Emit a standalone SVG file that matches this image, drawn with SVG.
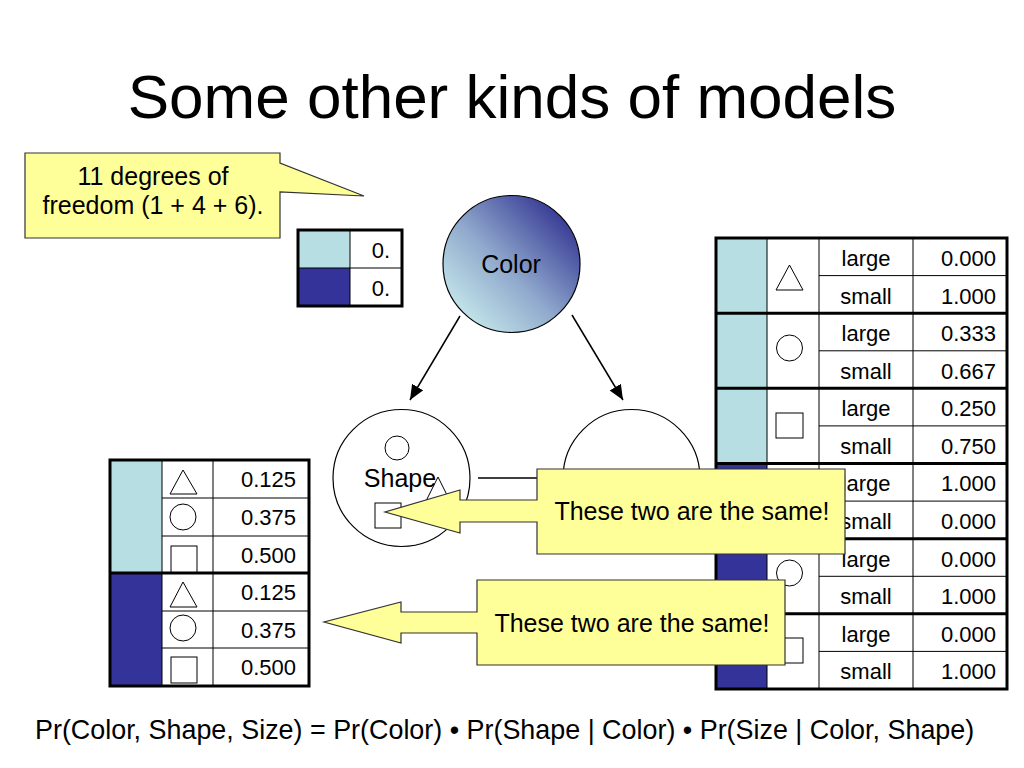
<svg xmlns="http://www.w3.org/2000/svg" width="1024" height="768" viewBox="0 0 1024 768">
<defs>
<style>
text{font-family:"Liberation Sans",Arial,sans-serif;fill:#000}
.title{font-size:62px;text-anchor:middle}
.lbl{font-size:25px;text-anchor:middle}
.cell{font-size:22px}
.r{text-anchor:end}
.c{text-anchor:middle}
.lb{fill:#b7dee2}
.db{fill:#333399}
.wh{fill:#fff}
.thin{stroke:#000;stroke-width:1;fill:none}
.thick{stroke:#000;stroke-width:3;fill:none}
.icon{stroke:#000;stroke-width:1;fill:#fff}
.callout{fill:#ffff99;stroke:#333;stroke-width:1.2}
.node{fill:#fff;stroke:#000;stroke-width:1.2}
.conn{stroke:#000;stroke-width:1.5;fill:none}
</style>
<linearGradient id="colorGrad" x1="0.15" y1="0.85" x2="0.85" y2="0.15">
<stop offset="0" stop-color="#c0e2e8"/>
<stop offset="0.45" stop-color="#8fa8cc"/>
<stop offset="1" stop-color="#3b3f98"/>
</linearGradient>
<marker id="arr" markerWidth="16" markerHeight="14" refX="15" refY="6.5" orient="auto" markerUnits="userSpaceOnUse">
<path d="M0,0 L15,6.5 L0,13 z" fill="#000"/>
</marker>
</defs>
<rect width="1024" height="768" fill="#fff"/>

<text class="title" x="512" y="118">Some other kinds of models</text>

<g id="table-color">
<rect class="lb" x="298" y="230" width="52" height="38"/>
<rect class="db" x="298" y="268" width="52" height="38"/>
<rect class="wh" x="350" y="230" width="52" height="76"/>
<line class="thin" x1="298" y1="268" x2="402" y2="268"/>
<line class="thin" x1="350" y1="230" x2="350" y2="306"/>
<rect class="thick" x="298" y="230" width="104" height="76"/>
<text class="cell r" x="390" y="258">0.</text>
<text class="cell r" x="390" y="296">0.</text>
</g>

<g id="node-color">
<circle cx="511.5" cy="264" r="68.5" fill="url(#colorGrad)" stroke="#000" stroke-width="1.2"/>
<text class="lbl" x="511" y="273">Color</text>
</g>

<g id="connectors">
<line class="conn" x1="460" y1="316" x2="410" y2="400" marker-end="url(#arr)"/>
<line class="conn" x1="572" y1="315" x2="623" y2="400" marker-end="url(#arr)"/>
<line class="conn" x1="478" y1="478" x2="562" y2="478" marker-end="url(#arr)"/>
</g>

<g id="node-shape">
<circle class="node" cx="401.5" cy="478" r="68.5"/>
<circle class="icon" cx="397" cy="448" r="12"/>
<polygon class="icon" points="438,477 451,503 425,503"/>
<rect class="icon" x="375" y="503" width="26" height="25"/>
<text class="lbl" x="400" y="487">Shape</text>
</g>

<g id="node-size">
<circle class="node" cx="631.5" cy="478" r="68.5"/>
</g>

<g id="table-shape">
<rect class="lb" x="110" y="460" width="52" height="113"/>
<rect class="db" x="110" y="573" width="52" height="113"/>
<rect class="wh" x="162" y="460" width="147" height="226"/>
<g class="thin">
<line x1="162" y1="498" x2="309" y2="498"/>
<line x1="162" y1="536" x2="309" y2="536"/>
<line x1="162" y1="611" x2="309" y2="611"/>
<line x1="162" y1="648" x2="309" y2="648"/>
<line x1="162" y1="460" x2="162" y2="686"/>
<line x1="213" y1="460" x2="213" y2="686"/>
</g>
<line class="thick" x1="110" y1="573" x2="309" y2="573"/>
<rect class="thick" x="110" y="460" width="199" height="226"/>
<polygon class="icon" points="183,470 197,494 170,494"/>
<circle class="icon" cx="183" cy="517" r="13"/>
<rect class="icon" x="171" y="546" width="26" height="26"/>
<polygon class="icon" points="183,582 197,607 170,607"/>
<circle class="icon" cx="183" cy="628" r="13"/>
<rect class="icon" x="171" y="657" width="26" height="26"/>
<text class="cell r" x="296" y="487">0.125</text>
<text class="cell r" x="296" y="525">0.375</text>
<text class="cell r" x="296" y="563">0.500</text>
<text class="cell r" x="296" y="600">0.125</text>
<text class="cell r" x="296" y="638">0.375</text>
<text class="cell r" x="296" y="675">0.500</text>
</g>

<g id="table-size">
<rect class="lb" x="716" y="238" width="51" height="225.5"/>
<rect class="db" x="716" y="463.5" width="51" height="225.5"/>
<rect class="wh" x="767" y="238" width="240" height="451"/>
<g class="thin">
<line x1="819" y1="275.6" x2="1007" y2="275.6"/>
<line x1="819" y1="350.8" x2="1007" y2="350.8"/>
<line x1="819" y1="425.9" x2="1007" y2="425.9"/>
<line x1="819" y1="501.1" x2="1007" y2="501.1"/>
<line x1="819" y1="576.3" x2="1007" y2="576.3"/>
<line x1="819" y1="651.4" x2="1007" y2="651.4"/>
<line x1="767" y1="238" x2="767" y2="689"/>
<line x1="819" y1="238" x2="819" y2="689"/>
<line x1="913" y1="238" x2="913" y2="689"/>
</g>
<g class="thick">
<line x1="716" y1="313.2" x2="1007" y2="313.2"/>
<line x1="716" y1="388.3" x2="1007" y2="388.3"/>
<line x1="716" y1="463.5" x2="1007" y2="463.5"/>
<line x1="716" y1="538.7" x2="1007" y2="538.7"/>
<line x1="716" y1="613.8" x2="1007" y2="613.8"/>
</g>
<rect class="thick" x="716" y="238" width="291" height="451"/>
<polygon class="icon" points="789.5,265 803,290 776,290"/>
<circle class="icon" cx="789.5" cy="348" r="13"/>
<rect class="icon" x="776" y="413" width="27" height="25"/>
<polygon class="icon" points="789.5,490 803,515 776,515"/>
<circle class="icon" cx="789.5" cy="573" r="13"/>
<rect class="icon" x="776" y="638" width="27" height="25"/>
<g class="cell c">
<text x="866" y="266">large</text>
<text x="866" y="304">small</text>
<text x="866" y="341">large</text>
<text x="866" y="379">small</text>
<text x="866" y="416">large</text>
<text x="866" y="454">small</text>
<text x="866" y="491">large</text>
<text x="866" y="529">small</text>
<text x="866" y="567">large</text>
<text x="866" y="604">small</text>
<text x="866" y="642">large</text>
<text x="866" y="679">small</text>
</g>
<g class="cell r">
<text x="996" y="266">0.000</text>
<text x="996" y="304">1.000</text>
<text x="996" y="341">0.333</text>
<text x="996" y="379">0.667</text>
<text x="996" y="416">0.250</text>
<text x="996" y="454">0.750</text>
<text x="996" y="491">1.000</text>
<text x="996" y="529">0.000</text>
<text x="996" y="567">0.000</text>
<text x="996" y="604">1.000</text>
<text x="996" y="642">0.000</text>
<text x="996" y="679">1.000</text>
</g>
</g>

<g id="callout-dof">
<polygon class="callout" points="25,153 280,153 280,163 364,196 280,192 280,238 25,238"/>
<text class="lbl" x="153" y="185">11 degrees of</text>
<text class="lbl" x="153" y="214">freedom (1 + 4 + 6).</text>
</g>

<g id="callout-same-1">
<polygon class="callout" points="537,469 845,469 845,554 537,554 537,522 460,522 460,533 385,512 460,490 460,500 537,500"/>
<text class="lbl" x="692" y="520">These two are the same!</text>
</g>

<g id="callout-same-2">
<polygon class="callout" points="477,580 785,580 785,665 477,665 477,633 401,633 401,643 324,622 401,602 401,612 477,612"/>
<text class="lbl" x="632" y="632">These two are the same!</text>
</g>

<text x="35" y="739" font-size="26.9">Pr(Color, Shape, Size) = Pr(Color) • Pr(Shape | Color) • Pr(Size | Color, Shape)</text>
</svg>
